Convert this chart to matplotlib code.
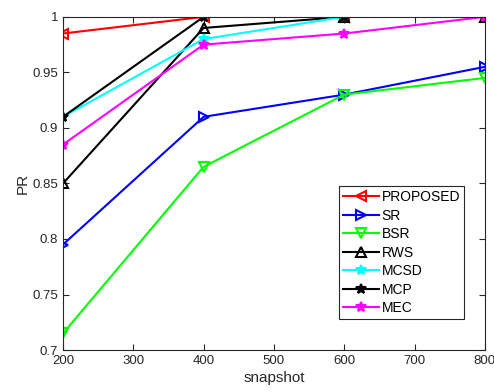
import numpy as np
import matplotlib.pyplot as plt

plt.rcParams['font.family'] = ['Liberation Sans', 'DejaVu Sans']

snapshot = [200, 400, 600, 800]
proposed = [0.985, 1.0, 1.0, 1.0]
sr = [0.795, 0.91, 0.93, 0.955]
bsr = [0.715, 0.865, 0.93, 0.945]
rws = [0.85, 0.99, 1.0, 1.0]
mcsd = [0.91, 0.98, 1.0, 1.0]
mcp = [0.91, 1.0, 1.0, 1.0]
mec = [0.885, 0.975, 0.985, 1.0]

fig = plt.figure(figsize=(4.94, 3.92), dpi=100)
ax = fig.add_axes([0.1275, 0.107, 0.854, 0.85])

ax.plot(snapshot, proposed, '-<', color='red', lw=1.5, ms=7, mfc='none', mew=1.5, label='PROPOSED')
ax.plot(snapshot, sr, '->', color='blue', lw=1.5, ms=7, mfc='none', mew=1.5, label='SR')
ax.plot(snapshot, bsr, '-v', color='#00ff00', lw=1.5, ms=7, mfc='none', mew=1.5, label='BSR')
ax.plot(snapshot, rws, '-^', color='black', lw=1.5, ms=7, mfc='none', mew=1.5, label='RWS')
ax.plot(snapshot, mcsd, '-*', color='cyan', lw=1.5, ms=7, mew=1.5, label='MCSD')
ax.plot(snapshot, mcp, '-*', color='black', lw=1.5, ms=7, mew=1.5, label='MCP')
ax.plot(snapshot, mec, '-*', color='magenta', lw=1.5, ms=7, mew=1.5, label='MEC')

ax.set_xlim(200, 800)
ax.set_ylim(0.7, 1.0)
ax.set_xticks([200, 300, 400, 500, 600, 700, 800])
ax.set_yticks([0.7, 0.75, 0.8, 0.85, 0.9, 0.95, 1.0])
ax.set_yticklabels(['0.7', '0.75', '0.8', '0.85', '0.9', '0.95', '1'])
ax.tick_params(direction='in', length=4, labelsize=9.5, colors='#262626', top=True, right=True)
for s in ax.spines.values():
    s.set_color('#262626')
ax.set_xlabel('snapshot', fontsize=11, color='#262626', labelpad=3)
ax.set_ylabel('PR', fontsize=11, color='#262626', labelpad=2)

leg = ax.legend(loc='lower right', bbox_to_anchor=(0.968, 0.072), fontsize=10, fancybox=False,
                edgecolor='#262626', framealpha=1, borderpad=0.3, labelspacing=0.32,
                handlelength=2.6, handletextpad=0.2)
leg.get_frame().set_linewidth(0.8)

plt.savefig('out.png')
